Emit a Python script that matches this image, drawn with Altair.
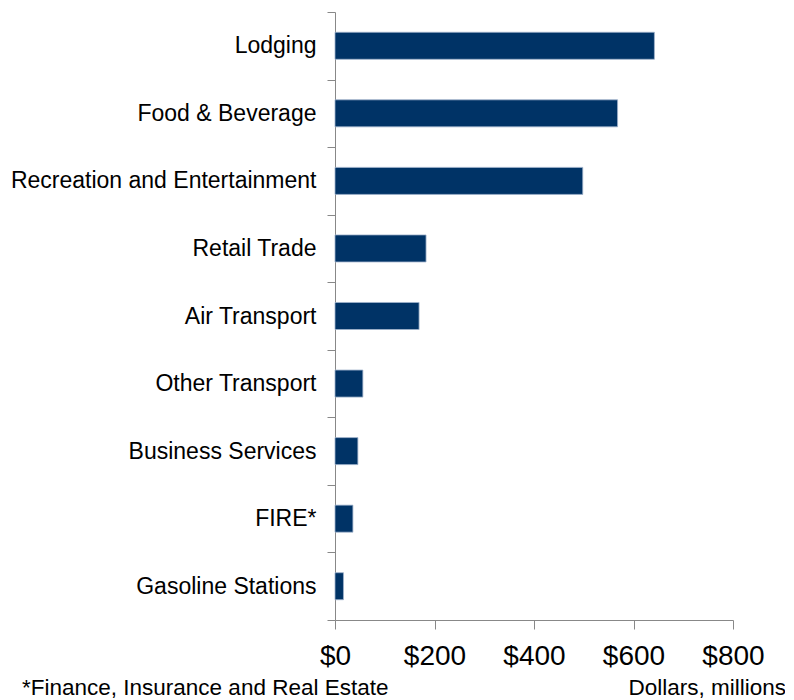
import altair as alt
import pandas as pd

categories = ["Lodging", "Food & Beverage", "Recreation and Entertainment", "Retail Trade",
              "Air Transport", "Other Transport", "Business Services", "FIRE*", "Gasoline Stations"]
values = [642, 568, 498, 183, 169, 56, 46, 36, 17]
x_ticks = [0, 200, 400, 600, 800]

df = pd.DataFrame({"category": categories, "value": values})

FONT = "Liberation Sans"

bars = alt.Chart(df).mark_bar(color="#003366", stroke="#9fb3cc", strokeWidth=0.8,
                              height={"band": 0.4}).encode(
    x=alt.X("value:Q", scale=alt.Scale(domain=[0, 800], nice=False),
            axis=alt.Axis(values=x_ticks, format="$,.0f", title=None, grid=False,
                          domainColor="#888888", tickColor="#888888", tickSize=9,
                          labelFontSize=28, labelFont=FONT, labelColor="#000000",
                          labelPadding=13, labelFlush=False)),
    y=alt.Y("category:N", sort=categories,
            scale=alt.Scale(paddingInner=0, paddingOuter=0),
            axis=alt.Axis(title=None, tickBand="extent", domainColor="#888888",
                          tickColor="#888888", tickSize=8, labelFontSize=23,
                          labelFont=FONT, labelColor="#000000", labelPadding=11,
                          labelLimit=400)),
)

foot_left = alt.Chart(pd.DataFrame({"t": ["*Finance, Insurance and Real Estate"]})).mark_text(
    align="left", baseline="alphabetic", fontSize=22.5, font=FONT, color="#000000"
).encode(text="t:N", x=alt.value(-313), y=alt.value(683))

foot_right = alt.Chart(pd.DataFrame({"t": ["Dollars, millions"]})).mark_text(
    align="right", baseline="alphabetic", fontSize=22.5, font=FONT, color="#000000"
).encode(text="t:N", x=alt.value(451), y=alt.value(683))

chart = alt.layer(bars, foot_left, foot_right).properties(
    width=398, height=608,
    autosize=alt.AutoSizeParams(type="none"),
    padding={"left": 327, "top": 4, "right": 52, "bottom": 82},
).configure_view(stroke=None)

chart.save("out.html", embed_options={"renderer": "svg", "actions": False})
